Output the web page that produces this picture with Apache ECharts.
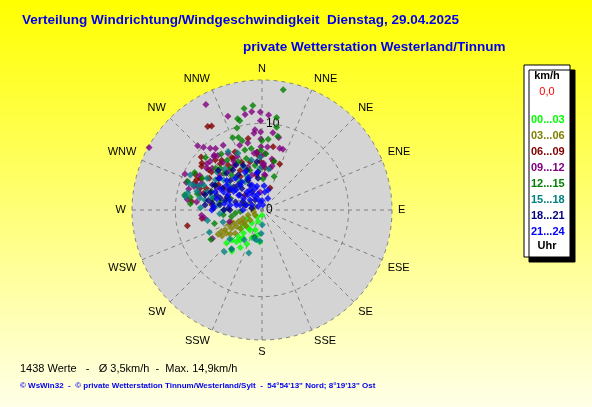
<!DOCTYPE html>
<html>
<head>
<meta charset="utf-8">
<script src="https://cdn.jsdelivr.net/npm/echarts@6/dist/echarts.min.js"></script>
<style>
    html, body { margin: 0; padding: 0; }
    #chart { width: 592px; height: 407px; }
</style>
</head>
<body>
<div id="chart"></div>
<script>
// compass labels, one every 22.5 degrees
const directions = ["N", "NNE", "NE", "ENE", "E", "ESE", "SE", "SSE",
    "S", "SSW", "SW", "WSW", "W", "WNW", "NW", "NNW"];
const radiusLabels = { 0: "0", 10: "10" };

// time slots (legend) and their colours
const slots = ["00...03", "03...06", "06...09", "09...12", "12...15", "15...18", "18...21", "21...24"];
const slotColors = ["#00ff00", "#808000", "#800000", "#800080", "#008000", "#008080", "#000080", "#0000ff"];

// [speed km/h, direction deg]
const h00_03 = [[3.7,184],[5.6,227],[4.3,216],[1.0,218],[1.9,218],[2.6,217],[3.4,219],[4.1,222],[4.9,225],[2.6,229],[2.7,211],[3.2,229],[1.4,198],[4.7,219],[3.9,214],[2.4,199],[2.9,189],[3.4,200],[4.3,204],[5.0,210],[5.9,216],[0.6,180],[1.9,240]];
const h03_06 = [[4.2,246],[4.8,242],[5.3,242],[3.6,245],[3.0,244],[2.4,246],[1.7,250],[1.0,259],[4.1,239],[3.5,237],[2.8,237],[4.1,229],[4.6,233],[2.4,236],[1.8,230],[4.9,237],[5.8,241],[1.2,279],[2.3,285],[1.6,300],[0.9,293],[3.3,229],[5.5,237],[2.6,225],[1.0,234],[3.8,249]];
const h06_09 = [[11.5,327],[11.3,329],[8.4,349],[7.4,10],[7.4,335],[6.7,355],[6.3,356],[5.7,21],[5.8,13],[2.7,20],[4.9,4],[8.2,277],[8.4,292],[8.0,297],[8.6,306],[9.3,311],[7.2,318],[7.0,330],[7.1,301],[7.3,307],[8.8,258],[7.0,262],[8.8,308],[8.3,295],[7.4,321],[6.5,323],[5.2,331],[5.7,346],[5.8,300],[7.0,286],[5.6,358],[4.6,327],[2.6,311],[4.3,302],[5.8,276],[6.9,291],[7.9,317],[6.8,331],[6.0,337],[7.6,289],[8.7,298],[5.1,299],[4.1,351],[7.7,307]];
const h09_12 = [[13.8,332],[11.5,340],[11.2,350],[11.4,354],[11.3,359],[11.0,4],[10.3,359],[9.3,355],[8.9,354],[9.0,359],[9.0,8],[8.6,13],[8.2,359],[7.9,348],[10.5,315],[9.9,317],[8.7,329],[7.9,341],[7.3,359],[7.4,16],[7.4,19],[8.9,323],[8.4,319],[7.6,329],[6.6,352],[7.3,5],[5.4,2],[4.1,4],[5.0,0],[6.2,359],[5.2,13],[4.9,11],[9.8,295],[9.3,290],[8.7,278],[8.0,291],[7.4,285],[8.3,310],[8.1,321],[7.5,310],[6.5,330],[7.0,265],[6.7,262],[4.0,250],[6.6,240],[8.3,318],[8.2,299],[8.3,289],[6.1,328],[5.2,342],[5.2,2],[4.0,5],[2.1,354],[7.6,277],[6.8,335],[6.0,11],[7.1,321],[8.0,307],[14.9,299],[9.3,320],[6.5,3],[6.7,355],[6.3,310],[7.6,294],[5.9,321],[4.2,344],[8.2,313],[8.8,286],[5.8,296]];
const h12_15 = [[14.1,10],[11.9,350],[12.1,355],[10.9,345],[10.6,346],[10.8,9],[9.9,343],[8.7,12],[9.0,338],[8.8,342],[8.3,344],[8.0,0],[8.2,5],[7.2,350],[6.9,359],[6.5,4],[8.0,324],[8.9,313],[7.2,344],[9.7,10],[5.8,14],[4.1,20],[8.9,299],[9.1,281],[8.3,275],[6.8,315],[6.0,323],[5.7,254],[6.8,240],[5.7,218],[3.2,196],[3.1,263],[2.5,266],[3.6,258],[4.5,263],[9.2,291],[8.4,280],[7.8,298],[6.2,290],[5.8,283],[7.0,325],[6.2,334],[5.2,351],[3.6,2],[4.9,281],[6.2,343],[5.3,319],[4.0,336],[6.1,298],[7.2,312],[6.1,314],[7.7,284],[4.1,322],[4.8,343],[3.9,290]];
const h15_18 = [[7.8,330],[7.1,337],[8.8,283],[8.9,290],[7.8,291],[6.4,259],[6.6,247],[6.5,222],[5.2,197],[4.9,265],[4.4,270],[3.5,191],[2.7,182],[1.7,179],[4.7,253],[5.0,228],[5.7,218],[4.0,211],[3.4,195],[3.6,184],[7.3,300],[7.3,293],[7.8,286],[8.4,290],[9.0,280],[6.8,310],[6.4,318],[5.4,337],[4.8,357],[4.8,9],[9.2,296],[6.0,285],[7.3,281],[6.1,358],[5.9,348],[5.6,308],[6.7,280],[3.9,307],[4.1,286],[3.8,329],[6.4,303],[6.7,288],[4.8,307],[4.7,321],[5.2,276],[4.4,336],[7.1,272]];
const h18_21 = [[6.2,306],[6.1,298],[6.3,289],[6.3,280],[5.6,272],[4.4,270],[5.7,324],[5.9,316],[4.9,326],[4.9,339],[4.4,354],[5.0,286],[4.3,291],[3.2,287],[2.4,294],[1.2,279],[3.9,273],[4.9,277],[5.8,278],[5.5,288],[3.4,317],[4.2,309],[5.6,354],[5.6,337],[3.2,334],[3.1,304],[5.0,313],[1.4,325],[2.0,286],[5.2,299],[6.8,285],[6.0,330],[3.7,353],[4.4,285],[6.4,297],[4.0,316],[3.8,335],[3.7,270],[6.8,312],[2.4,331],[6.6,275],[4.5,301]];
const h21_24 = [[2.7,320],[2.0,330],[1.5,336],[2.6,342],[1.0,346],[1.8,310],[2.5,302],[3.2,302],[3.9,303],[4.4,304],[5.0,305],[4.9,295],[5.4,297],[5.4,284],[5.6,274],[5.8,270],[3.7,279],[3.0,281],[1.9,288],[0.6,312],[4.0,324],[4.0,337],[2.1,9],[2.4,17],[4.3,352],[3.1,338],[3.8,319],[4.8,320],[4.3,294],[4.8,336],[1.3,297],[6.1,307],[2.8,348],[1.1,0],[4.4,280],[3.9,287],[2.6,283],[2.4,317],[3.8,308],[5.3,310],[5.8,291],[2.7,329],[1.9,346],[2.2,270],[0.6,10],[1.5,27],[2.8,5]];
const slotData = [h00_03, h03_06, h06_09, h09_12, h12_15, h15_18, h18_21, h21_24];

const chart = echarts.init(document.getElementById("chart"));
const font = "Liberation Sans, Arial, sans-serif";
const center = [262, 210];
const radius = 130;

function titleStyle(color, size, weight) {
    return { color: color, fontSize: size, fontWeight: weight, fontFamily: font };
}

const option = {
    animation: false,
    backgroundColor: new echarts.graphic.LinearGradient(0, 0, 0, 1, [
        { offset: 0, color: "#ffff00" },
        { offset: 1, color: "#ffffe8" }
    ]),
    textStyle: { fontFamily: font },
    title: [
        {
            text: "Verteilung Windrichtung/Windgeschwindigkeit  Dienstag, 29.04.2025",
            left: 22, top: 13, padding: 0,
            textStyle: titleStyle("#0000ee", 13.5, "bold")
        },
        {
            text: "private Wetterstation Westerland/Tinnum",
            left: 243, top: 40, padding: 0,
            textStyle: titleStyle("#0000ee", 13.5, "bold")
        },
        {
            text: "1438 Werte   -   Ø 3,5km/h  -  Max. 14,9km/h",
            left: 20, top: 363, padding: 0,
            textStyle: titleStyle("#000", 11, "normal")
        },
        {
            text: "© WsWin32  -  © private Wetterstation Tinnum/Westerland/Sylt  -  54°54'13\" Nord; 8°19'13\" Ost",
            left: 20, top: 382, padding: 0,
            textStyle: titleStyle("#0000ee", 8, "bold")
        }
    ],
    // polar 0 only paints the grey disc, polar 1 carries grid and points
    polar: [
        { center: center, radius: radius },
        { center: center, radius: radius }
    ],
    angleAxis: [
        { polarIndex: 0, type: "value", min: 0, max: 360, show: false },
        {
            polarIndex: 1,
            type: "value",
            min: 0,
            max: 360,
            interval: 22.5,
            startAngle: 90,
            clockwise: true,
            axisLine: { show: false },
            axisTick: { show: false },
            axisLabel: {
                margin: 6,
                color: "#000",
                fontSize: 11,
                formatter: function(v) {
                    return directions[Math.round(v / 22.5) % 16];
                }
            },
            splitLine: { show: true, lineStyle: { color: "#808080", type: [4, 4], width: 1 } }
        }
    ],
    radiusAxis: [
        {
            polarIndex: 0,
            type: "value",
            min: 0,
            max: 15,
            z: -1,
            axisLine: { show: false },
            axisTick: { show: false },
            axisLabel: { show: false },
            splitLine: { show: false },
            splitArea: { show: true, areaStyle: { color: ["#d4d4d4"] } }
        },
        {
            polarIndex: 1,
            type: "value",
            min: 0,
            max: 15,
            interval: 10,
            axisLine: { show: false },
            axisTick: { show: false },
            axisLabel: {
                color: "#000",
                fontSize: 12,
                align: "left",
                margin: -4,
                formatter: function(v) {
                    return radiusLabels[v] || "";
                }
            },
            splitLine: { show: true, showMaxLine: false, lineStyle: { color: "#808080", type: [4, 4], width: 1 } }
        }
    ],
    legend: {
        orient: "vertical",
        left: 526,
        top: 113,
        padding: 0,
        itemWidth: 0,
        itemHeight: 14,
        itemGap: 2,
        selectedMode: false,
        textStyle: { fontSize: 11, fontWeight: "bold", fontFamily: font },
        data: slots.map(function(name, i) {
            return { name: name, icon: "rect", textStyle: { color: slotColors[i] } };
        })
    },
    graphic: [
        {
            type: "rect",
            shape: { x: 524, y: 65, width: 46, height: 192 },
            style: { fill: "#fff", stroke: "#000", lineWidth: 1, shadowColor: "#000", shadowOffsetX: 5, shadowOffsetY: 5, shadowBlur: 0 },
            z: -1
        },
        { type: "text", x: 547, y: 76, style: { text: "km/h", fill: "#000", font: "bold 11px " + font, align: "center", verticalAlign: "middle" } },
        { type: "text", x: 547, y: 92, style: { text: "0,0", fill: "#ff0000", font: "11px " + font, align: "center", verticalAlign: "middle" } },
        { type: "text", x: 547, y: 246, style: { text: "Uhr", fill: "#000", font: "bold 11px " + font, align: "center", verticalAlign: "middle" } }
    ],
    series: slots.map(function(name, i) {
        return {
            name: name,
            type: "scatter",
            coordinateSystem: "polar",
            polarIndex: 1,
            symbol: "diamond",
            symbolSize: 7,
            itemStyle: { color: slotColors[i] },
            data: slotData[i]
        };
    })
};
chart.setOption(option);
</script>
</body>
</html>
